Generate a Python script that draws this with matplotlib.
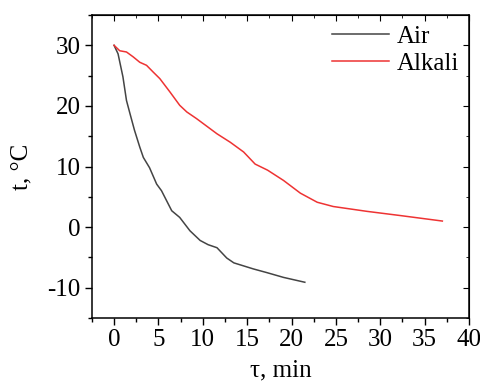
import matplotlib
matplotlib.use('Agg')
import matplotlib.pyplot as plt
from matplotlib.ticker import MultipleLocator

# Cooling curves
air_t = [0, 0.45, 1.0, 1.4, 1.8, 2.3, 2.9, 3.3, 4.0, 4.8, 5.35, 6.5, 7.4, 8.55,
         9.7, 10.6, 11.6, 12.7, 13.5, 14.6, 15.7, 17.2, 19.1, 21.5]
air_temp = [30, 28.6, 24.8, 20.9, 18.7, 16.0, 13.2, 11.5, 9.8, 7.1, 6.0, 2.7,
            1.6, -0.6, -2.2, -2.9, -3.4, -5.1, -5.9, -6.4, -6.9, -7.5, -8.3, -9.1]

alk_t = [0, 0.64, 1.4, 2.15, 2.9, 3.66, 4.4, 5.16, 6.3, 7.4, 8.2, 9.3, 11.6,
         13.1, 14.6, 15.9, 17.3, 19.1, 21.0, 22.9, 24.7, 28.5, 32.3, 37.0]
alk_temp = [30, 29.1, 28.9, 28.1, 27.2, 26.7, 25.6, 24.5, 22.3, 20.1, 19.0, 17.9,
            15.4, 14.0, 12.4, 10.4, 9.4, 7.7, 5.6, 4.1, 3.4, 2.6, 1.9, 1.0]

plt.rcParams['font.family'] = ['Liberation Serif', 'DejaVu Serif']
plt.rcParams['axes.unicode_minus'] = False

fig = plt.figure(figsize=(4.81, 3.85), dpi=100)
ax = fig.add_axes([0.191, 0.174, 0.784, 0.787])

ax.plot(air_t, air_temp, color='#444444', lw=1.1, label='Air')
ax.plot(alk_t, alk_temp, color='#ee3333', lw=1.1, label='Alkali')

ax.set_xlim(-2.5, 40)
ax.set_ylim(-15, 35)
ax.xaxis.set_major_locator(MultipleLocator(5))
ax.xaxis.set_minor_locator(MultipleLocator(2.5))
ax.yaxis.set_major_locator(MultipleLocator(10))
ax.yaxis.set_minor_locator(MultipleLocator(5))

ax.tick_params(which='both', direction='out', labelsize=18, width=1)
ax.tick_params(which='major', length=5, pad=3)
ax.tick_params(which='minor', length=3)

# mirrored inward ticks on top and right
top = ax.secondary_xaxis('top')
top.set_xticks(range(0, 41, 5))
top.xaxis.set_minor_locator(MultipleLocator(2.5))
top.tick_params(which='both', direction='in', labeltop=False)
top.tick_params(which='major', length=4)
top.tick_params(which='minor', length=2.5)
right = ax.secondary_yaxis('right')
right.set_yticks(range(-10, 31, 10))
right.yaxis.set_minor_locator(MultipleLocator(5))
right.tick_params(which='both', direction='in', labelright=False)
right.tick_params(which='major', length=4)
right.tick_params(which='minor', length=2.5)

for s in ax.spines.values():
    s.set_linewidth(1.1)

ax.set_xlabel('τ, min', fontsize=18, labelpad=6)
ax.set_ylabel('t, °C', fontsize=18, labelpad=11)

ax.legend(loc='upper right', frameon=False, fontsize=18, handlelength=2.3,
          handletextpad=0.3, borderaxespad=0.0, labelspacing=0.2)

fig.savefig('out.png', dpi=100)
